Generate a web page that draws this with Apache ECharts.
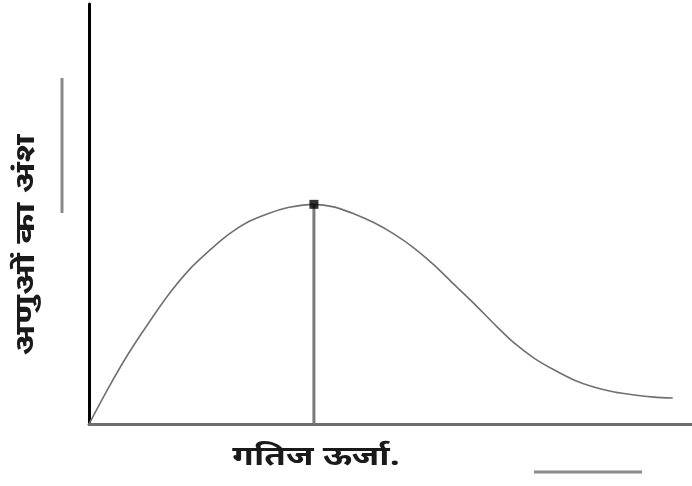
<!DOCTYPE html>
<html>
<head>
<meta charset="utf-8">
<script src="https://cdn.jsdelivr.net/npm/echarts@6/dist/echarts.min.js"></script>
<style>
  html, body { margin: 0; padding: 0; background: #fff; }
  #chart { width: 692px; height: 486px; }
</style>
</head>
<body>
<div id="chart"></div>
<script>
// Energy distribution curve: fraction of molecules vs kinetic energy
const energy   = [0, 3.3, 6.6, 10.0, 13.3, 16.6, 19.9, 23.2, 26.5, 29.9, 33.2, 37.3, 40.6, 44.0, 47.3, 50.6, 53.9, 57.2, 60.5, 63.9, 67.2, 70.5, 73.8, 77.1, 80.4, 83.7, 87.1, 90.4, 93.7, 96.8];
const fraction = [0, 8.8, 16.9, 24.3, 31.0, 36.7, 41.2, 45.2, 48.2, 50.2, 51.6, 52.3, 51.7, 50.0, 47.9, 45.2, 41.9, 37.9, 33.3, 28.6, 23.8, 19.3, 15.7, 12.9, 10.5, 8.8, 7.6, 6.9, 6.4, 6.2];
// most probable energy (peak of the curve)
const peakEnergy = 37.3;
const peakFraction = 52.3;

const yTitle = 'अणुओं का अंश';
const xTitle = 'गतिज ऊर्जा.';
const fontFamily = "'Noto Sans Devanagari', 'Lohit Devanagari', 'Noto Sans', sans-serif";

const chart = echarts.init(document.getElementById('chart'), null, { renderer: 'canvas' });
chart.setOption({
  animation: false,
  backgroundColor: '#ffffff',
  grid: { left: 89, right: 0, top: 4, bottom: 62 },
  xAxis: {
    type: 'value', min: 0, max: 100,
    axisLine: { show: true, lineStyle: { color: '#6e6e6e', width: 3 } },
    axisTick: { show: false }, axisLabel: { show: false }, splitLine: { show: false }
  },
  yAxis: {
    type: 'value', min: 0, max: 100,
    axisLine: { show: true, lineStyle: { color: '#000000', width: 3 } },
    axisTick: { show: false }, axisLabel: { show: false }, splitLine: { show: false }
  },
  series: [
    {
      type: 'line',
      data: energy.map((e, i) => [e, fraction[i]]),
      smooth: 0.3,
      symbol: 'none',
      lineStyle: { color: '#707070', width: 1.6 },
      z: 3
    },
    {
      type: 'line',
      data: [[peakEnergy, 0], [peakEnergy, peakFraction]],
      symbol: 'none',
      lineStyle: { color: '#7a7a7a', width: 3 },
      z: 2
    },
    {
      type: 'scatter',
      data: [[peakEnergy, peakFraction]],
      symbol: 'rect',
      symbolSize: 9,
      itemStyle: { color: '#000000' },
      z: 4
    }
  ],
  graphic: [
    {
      type: 'text',
      x: 29, y: 245,
      rotation: Math.PI / 2,
      scaleX: 1.35,
      style: {
        text: yTitle, fill: '#1a1a1a', font: `bold 27px ${fontFamily}`,
        textAlign: 'center', textVerticalAlign: 'middle'
      }
    },
    {
      type: 'line',
      shape: { x1: 62, y1: 78, x2: 62, y2: 213 },
      style: { stroke: '#8a8a8a', lineWidth: 3 }
    },
    {
      type: 'text',
      x: 316, y: 460,
      scaleX: 1.3,
      style: {
        text: xTitle, fill: '#1a1a1a', font: `bold 27px ${fontFamily}`,
        textAlign: 'center', textVerticalAlign: 'middle'
      }
    },
    {
      type: 'line',
      shape: { x1: 534, y1: 472, x2: 642, y2: 472 },
      style: { stroke: '#8a8a8a', lineWidth: 3 }
    }
  ]
});
</script>
</body>
</html>
